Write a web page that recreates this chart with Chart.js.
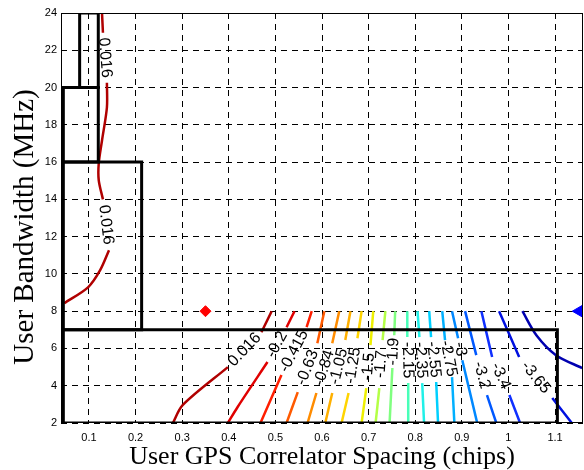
<!DOCTYPE html>
<html>
<head>
<meta charset="utf-8">
<script src="https://cdn.jsdelivr.net/npm/chart.js"></script>
<style>
  html, body { margin: 0; padding: 0; background: #fff; }
  canvas { display: block; }
</style>
</head>
<body>
<canvas id="myChart" width="584" height="470"></canvas>
<script>
// contour levels (one entry per drawn line, the 0.016 level appears twice)
const levels = ['0.016', '0.016', '-0.2', '-0.415', '-0.63', '-0.84', '-1.05', '-1.25', '-1.5', '-1.7',
  '-1.9', '-2.15', '-2.35', '-2.55', '-2.75', '-3', '-3.2', '-3.4', '-3.65', '-3.9'];

// contour points, null = break where the label sits
const contourX = [
  [0.128, 0.130, null, 0.1385, 0.1385, 0.128, 0.121, 0.121, 0.130, null, 0.143, 0.124, 0.098, 0.047],
  [0.280, 0.301, 0.398, null, 0.470, 0.492],
  [0.398, 0.419, 0.483, null, 0.524, 0.541],
  [0.468, 0.513, null, 0.567, 0.578],
  [0.524, 0.548, null, 0.590, 0.605],
  [0.569, 0.588, null, 0.622, 0.637],
  [0.607, 0.622, null, 0.650, 0.661],
  [0.642, 0.657, null, 0.676, 0.685],
  [0.685, 0.695, null, 0.704, 0.710],
  [0.715, 0.723, null, 0.730, 0.736],
  [0.745, 0.751, null, 0.755, 0.757],
  [0.785, 0.785, null, 0.783, 0.783],
  [0.819, 0.815, null, 0.809, 0.805],
  [0.849, 0.845, null, 0.834, 0.830],
  [0.884, 0.879, null, 0.864, 0.858],
  [0.933, 0.901, null, 0.892, 0.879],
  [0.974, 0.954, null, 0.931, 0.907],
  [1.025, 1.002, null, 0.965, 0.942],
  [1.136, 1.094, null, 1.023, 0.980],
  [1.030, 1.060, 1.102, 1.158]
];
const contourY = [
  [24, 22.94, null, 20.26, 18.93, 17.16, 15.93, 15.02, 14.0, null, 11.27, 10.2, 9.28, 8.43],
  [2, 2.96, 5.0, null, 6.87, 8],
  [2, 2.86, 5.27, null, 7.14, 8],
  [2, 4.57, null, 7.14, 8],
  [2, 3.66, null, 6.28, 8],
  [2, 3.61, null, 6.28, 8],
  [2, 3.61, null, 6.45, 8],
  [2, 3.61, null, 6.55, 8],
  [2, 3.87, null, 6.18, 8],
  [2, 3.87, null, 6.45, 8],
  [2, 4.95, null, 6.71, 8],
  [2, 4.14, null, 6.61, 8],
  [2, 4.14, null, 6.61, 8],
  [2, 4.20, null, 6.61, 8],
  [2, 4.46, null, 6.45, 8],
  [2, 5.37, null, 6.55, 8],
  [2, 3.50, null, 5.64, 8],
  [2, 3.50, null, 5.54, 8],
  [2, 3.34, null, 5.54, 8],
  [8, 6.71, 5.64, 4.95]
];

// black region boxes
const boxX0 = [0.045, 0.045, 0.045, 0.08];
const boxX1 = [1.105, 0.213, 0.12, 0.12];
const boxY0 = [2, 7, 16, 20];
const boxY1 = [7, 16, 20, 24];

// markers: red diamond, blue triangle
const markerX = [0.35, 1.152];
const markerY = [8, 8];

const xTicks = [0.1, 0.2, 0.3, 0.4, 0.5, 0.6, 0.7, 0.8, 0.9, 1, 1.1];
const yTicks = [2, 4, 6, 8, 10, 12, 14, 16, 18, 20, 22, 24];

const lineColors = ['#b00000', '#b00000', '#e00000', '#ff1e00', '#ff5a00', '#ff8c00', '#ffb000', '#ffd400',
  '#eef000', '#b4ff46', '#80ff80', '#48ffb8', '#20f0e8', '#00d0ff', '#00b0ff', '#0088ff', '#0058ff',
  '#1030ff', '#0010e0', '#0000b0'];

const sans = '"Liberation Sans", Arial, sans-serif';
const serif = '"Liberation Serif", "Times New Roman", serif';

var datasets = [];

datasets.push({
  data: [{ x: markerX[0], y: markerY[0] }],
  showLine: false, pointStyle: 'rectRot', pointRadius: 5.5,
  backgroundColor: '#ff0000', borderColor: '#ff0000', order: 0
});
datasets.push({
  data: [{ x: markerX[1], y: markerY[1] }],
  showLine: false, pointStyle: 'triangle', rotation: -90, pointRadius: 7,
  backgroundColor: '#0000ff', borderColor: '#0000ff', order: 0
});

for (var b = 0; b < boxX0.length; b++) {
  datasets.push({
    data: [
      { x: boxX0[b], y: boxY0[b] }, { x: boxX1[b], y: boxY0[b] },
      { x: boxX1[b], y: boxY1[b] }, { x: boxX0[b], y: boxY1[b] },
      { x: boxX0[b], y: boxY0[b] }
    ],
    borderColor: '#000', borderWidth: 3, pointRadius: 0, tension: 0, order: 1
  });
}

for (var k = 0; k < contourX.length; k++) {
  datasets.push({
    data: contourX[k].map(function (v, i) { return { x: v, y: contourY[k][i] }; }),
    borderColor: lineColors[k], borderWidth: 2.5, pointRadius: 0, tension: 0.3,
    spanGaps: false, order: 2
  });
}

// inline contour labels, axes frame and the y title
const contourLabels = {
  id: 'contourLabels',
  afterDatasetsDraw(chart) {
    const ctx = chart.ctx;
    const xs = chart.scales.x, ys = chart.scales.y;
    ctx.save();
    ctx.font = '16px ' + sans;
    ctx.fillStyle = '#000';
    ctx.textAlign = 'center';
    ctx.textBaseline = 'middle';
    contourX.forEach(function (row, k) {
      for (var i = 1; i < row.length - 1; i++) {
        if (row[i] !== null) continue;
        var x1 = xs.getPixelForValue(row[i - 1]), y1 = ys.getPixelForValue(contourY[k][i - 1]);
        var x2 = xs.getPixelForValue(row[i + 1]), y2 = ys.getPixelForValue(contourY[k][i + 1]);
        var a = Math.atan2(y2 - y1, x2 - x1);
        if (a > Math.PI / 2) a -= Math.PI;
        if (a < -Math.PI / 2) a += Math.PI;
        ctx.save();
        ctx.translate((x1 + x2) / 2, (y1 + y2) / 2);
        ctx.rotate(a);
        ctx.fillText(levels[k], 0, 0);
        ctx.restore();
      }
    });
    const area = chart.chartArea;
    ctx.strokeStyle = '#000';
    ctx.lineWidth = 1;
    ctx.strokeRect(area.left + 0.5, area.top + 0.5, area.right - area.left - 1, area.bottom - area.top - 1);

    // y axis title sits a bit below the middle of the axis in the original
    ctx.font = '29px ' + serif;
    ctx.translate(25, 227);
    ctx.rotate(-Math.PI / 2);
    ctx.fillText('User Bandwidth (MHz)', 0, 0);
    ctx.restore();
  }
};

new Chart(document.getElementById('myChart'), {
  type: 'line',
  data: { datasets: datasets },
  plugins: [contourLabels],
  options: {
    responsive: false,
    animation: false,
    devicePixelRatio: 1,
    layout: { autoPadding: false, padding: { top: 13, right: 1, left: 0, bottom: 0 } },
    plugins: { legend: { display: false }, tooltip: { enabled: false } },
    scales: {
      x: {
        type: 'linear', min: 0.04, max: 1.16,
        afterBuildTicks: function (s) { s.ticks = xTicks.map(function (v) { return { value: v }; }); },
        afterFit: function (s) { s.height = 47; s.paddingLeft = 0; s.paddingRight = 0; },
        grid: { color: '#000', lineWidth: 1, drawTicks: false },
        border: { display: false, dash: [6, 5] },
        ticks: {
          color: '#000', font: { family: sans, size: 11 }, padding: 8, maxRotation: 0, autoSkip: false,
          callback: function (v) { return String(v); }
        },
        title: {
          display: true, text: 'User GPS Correlator Spacing (chips)', color: '#000',
          font: { family: serif, size: 26, lineHeight: 1 }, padding: 0
        }
      },
      y: {
        type: 'linear', min: 2, max: 24,
        afterBuildTicks: function (s) { s.ticks = yTicks.map(function (v) { return { value: v }; }); },
        afterFit: function (s) { s.width = 61; s.paddingTop = 0; s.paddingBottom = 0; },
        grid: { color: '#000', lineWidth: 1, drawTicks: false },
        border: { display: false, dash: [6, 5] },
        ticks: {
          color: '#000', font: { family: sans, size: 11 }, padding: 4, autoSkip: false,
          callback: function (v) { return String(v); }
        }
      }
    }
  }
});
</script>
</body>
</html>
